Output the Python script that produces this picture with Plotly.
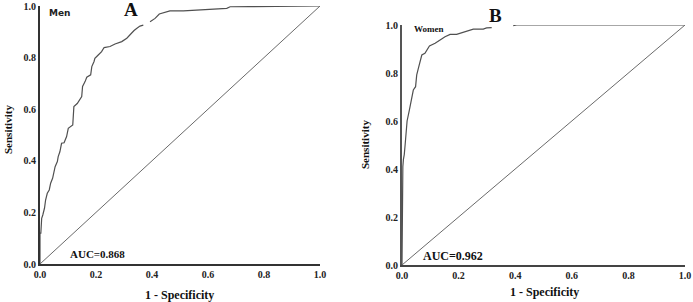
import plotly.graph_objects as go

# Panel A (Men) ROC curve
men_fpr = [0.0, 0.0, 0.003, 0.006, 0.01, 0.016, 0.02, 0.026, 0.033, 0.038, 0.045, 0.048, 0.054, 0.062,
           0.065, 0.071, 0.077, 0.086, 0.095, 0.101, 0.107, 0.117, 0.121, 0.133, 0.149, 0.152, 0.161,
           0.167, 0.181, 0.185, 0.193, 0.196, 0.208, 0.22, 0.229, 0.25, 0.268, 0.292, 0.31, 0.324,
           0.336, 0.345, 0.357, 0.369, None, 0.393, 0.411, 0.426, 0.44, 0.452, 0.464, 0.512, 0.56,
           0.619, 0.667, 0.679, 0.85, 1.0]
men_tpr = [0.0, 0.12, 0.12, 0.177, 0.19, 0.216, 0.248, 0.274, 0.287, 0.313, 0.332, 0.351, 0.377, 0.397,
           0.416, 0.435, 0.468, 0.47, 0.494, 0.526, 0.532, 0.539, 0.61, 0.622, 0.649, 0.688, 0.707,
           0.724, 0.733, 0.765, 0.785, 0.797, 0.81, 0.823, 0.839, 0.843, 0.853, 0.862, 0.875, 0.893,
           0.905, 0.913, 0.922, 0.926, None, 0.939, 0.952, 0.969, 0.973, 0.977, 0.981, 0.981, 0.984,
           0.988, 0.991, 0.997, 1.0, 1.0]

# Panel B (Women) ROC curve
women_fpr = [0.0, 0.001, 0.003, 0.005, 0.008, 0.011, 0.018, 0.026, 0.034, 0.04, 0.048, 0.052, 0.058,
             0.064, 0.07, 0.081, 0.087, 0.097, 0.117, 0.128, 0.14, 0.152, 0.17, 0.193, 0.217, 0.234,
             0.252, 0.287, 0.299, 0.317, None, 0.393, 0.405, 1.0]
women_tpr = [0.0, 0.28, 0.41, 0.44, 0.46, 0.5, 0.6, 0.645, 0.688, 0.729, 0.743, 0.792, 0.82, 0.854,
             0.875, 0.882, 0.896, 0.913, 0.924, 0.931, 0.942, 0.951, 0.961, 0.961, 0.97, 0.976,
             0.983, 0.983, 0.988, 0.989, None, 0.997, 1.0, 1.0]

ref_line = [0.0, 1.0]
tick_vals = [0.0, 0.2, 0.4, 0.6, 0.8, 1.0]
tick_text = ["0.0", "0.2", "0.4", "0.6", "0.8", "1.0"]

W, H = 693, 302
SERIF = "Liberation Serif"

fig = go.Figure()

curve_col = "#505050"
diag_col = "#6a6a6a"

fig.add_trace(go.Scatter(x=men_fpr, y=men_tpr, mode="lines", line=dict(color=curve_col, width=1.2),
                         xaxis="x", yaxis="y", showlegend=False))
fig.add_trace(go.Scatter(x=ref_line, y=ref_line, mode="lines", line=dict(color=diag_col, width=1),
                         xaxis="x", yaxis="y", showlegend=False))
fig.add_trace(go.Scatter(x=women_fpr, y=women_tpr, mode="lines", line=dict(color=curve_col, width=1.2),
                         xaxis="x2", yaxis="y2", showlegend=False))
fig.add_trace(go.Scatter(x=ref_line, y=ref_line, mode="lines", line=dict(color=diag_col, width=1),
                         xaxis="x2", yaxis="y2", showlegend=False))

def px_x(p):
    return p / W

def px_y(p):
    return 1 - p / H

tickfont = dict(family=SERIF, size=10, color="#222222", weight="bold")
axis_common = dict(range=[0, 1], tickvals=tick_vals, ticktext=tick_text, showgrid=False, zeroline=False,
                   showline=True, ticks="", tickfont=tickfont, fixedrange=True, automargin=False)

fig.update_layout(
    width=W, height=H,
    margin=dict(l=0, r=0, t=0, b=0, pad=0),
    paper_bgcolor="white", plot_bgcolor="white",
    xaxis=dict(domain=[px_x(40), px_x(320)], anchor="y", linecolor="#333333", linewidth=1.5, **axis_common),
    yaxis=dict(domain=[px_y(264), px_y(6)], anchor="x", linecolor="#333333", linewidth=2, **axis_common),
    xaxis2=dict(domain=[px_x(402), px_x(685)], anchor="y2", linecolor="#444444", linewidth=1.5, **axis_common),
    yaxis2=dict(domain=[px_y(265), px_y(25)], anchor="x2", linecolor="#555555", linewidth=2, **axis_common),
)

def note(text, x, y, size, family=SERIF, angle=0, color="#111111"):
    fig.add_annotation(text="<b>%s</b>" % text, x=px_x(x), y=px_y(y), xref="paper", yref="paper",
                       showarrow=False, xanchor="center", yanchor="middle", textangle=angle,
                       font=dict(family=family, size=size, color=color))

# Panel A labels
note("A", 131, 9, 19)
note("Men", 59, 13, 9, family="DejaVu Sans", color="#222222")
note("AUC=0.868", 97, 254, 11)
note("1 - Specificity", 180, 295, 12)
note("Sensitivity", 8, 130, 11, angle=-90)

# Panel B labels
note("B", 495, 15, 19)
note("Women", 429, 29, 9)
note("AUC=0.962", 453, 256, 12)
note("1 - Specificity", 544, 292, 12)
note("Sensitivity", 365, 145, 11, angle=-90)

fig.write_html("out.html", config={"displayModeBar": False},
               post_script="document.body.style.margin='0';document.body.style.overflow='hidden';")
